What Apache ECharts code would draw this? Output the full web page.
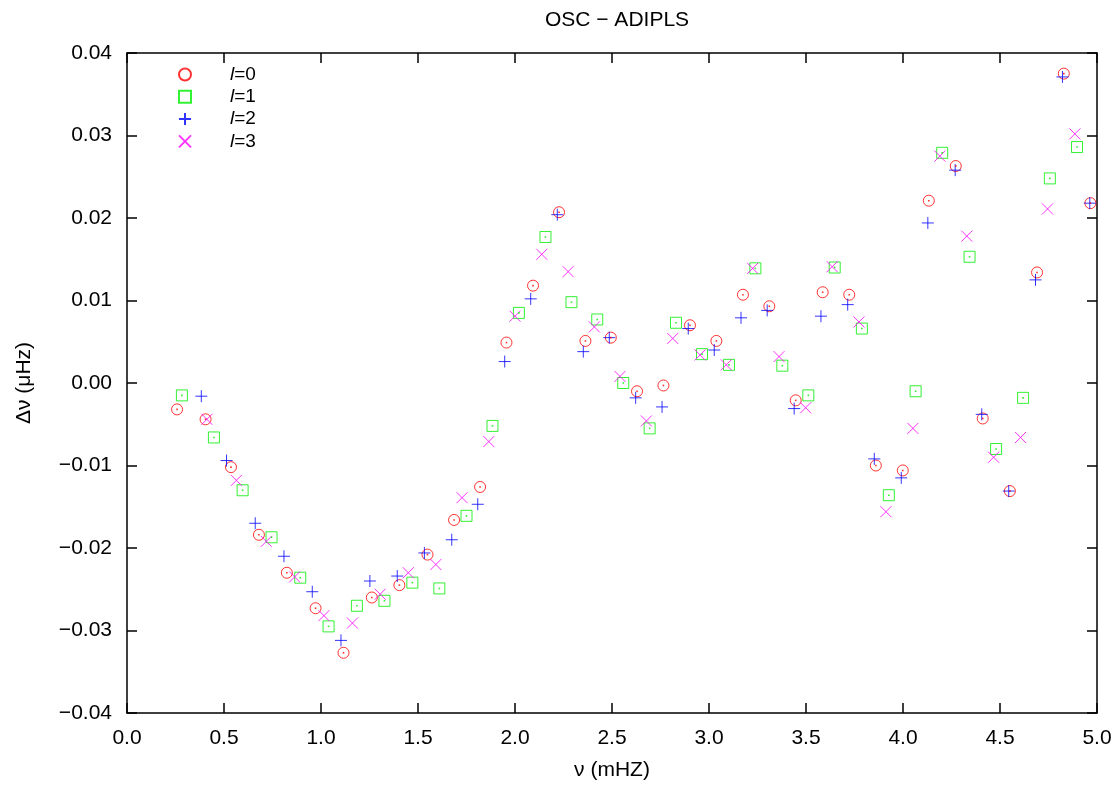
<!DOCTYPE html>
<html>
<head>
<meta charset="utf-8">
<script src="https://cdn.jsdelivr.net/npm/echarts@6/dist/echarts.min.js"></script>
<style>
html,body{margin:0;padding:0;background:#fff;}
#chart{width:1118px;height:786px;}
</style>
</head>
<body>
<div id="chart"></div>
<script>
// ---- data ----
const xTicks = [0.0,0.5,1.0,1.5,2.0,2.5,3.0,3.5,4.0,4.5,5.0];
const yTicks = [-0.04,-0.03,-0.02,-0.01,0.00,0.01,0.02,0.03,0.04];
const seriesNames = ['l=0','l=1','l=2','l=3'];

const nuL0 = [0.258,0.405,0.536,0.680,0.824,0.972,1.116,1.262,1.404,1.549,1.686,1.820,1.956,2.093,2.227,2.363,2.494,2.629,2.765,2.902,3.038,3.175,3.311,3.447,3.586,3.723,3.860,3.999,4.133,4.272,4.411,4.551,4.691,4.829,4.966];
const dnuL0 = [-0.0032,-0.0044,-0.0102,-0.0184,-0.0230,-0.0273,-0.0327,-0.0260,-0.0245,-0.0208,-0.0166,-0.0126,0.0049,0.0118,0.0207,0.0051,0.0055,-0.0010,-0.0003,0.0070,0.0051,0.0107,0.0093,-0.0021,0.0110,0.0107,-0.0100,-0.0106,0.0221,0.0263,-0.0043,-0.0131,0.0134,0.0375,0.0218];

const nuL1 = [0.283,0.448,0.596,0.745,0.893,1.039,1.185,1.327,1.471,1.610,1.750,1.884,2.020,2.157,2.291,2.424,2.558,2.694,2.830,2.964,3.103,3.239,3.378,3.512,3.648,3.788,3.927,4.065,4.202,4.343,4.480,4.619,4.757,4.897];
const dnuL1 = [-0.0015,-0.0066,-0.0130,-0.0187,-0.0236,-0.0295,-0.0270,-0.0264,-0.0242,-0.0249,-0.0161,-0.0052,0.0085,0.0177,0.0098,0.0077,0.0000,-0.0055,0.0073,0.0035,0.0022,0.0139,0.0021,-0.0015,0.0140,0.0066,-0.0136,-0.0010,0.0279,0.0153,-0.0080,-0.0018,0.0248,0.0286];

const nuL2 = [0.383,0.513,0.661,0.809,0.955,1.103,1.252,1.393,1.533,1.674,1.808,1.947,2.081,2.218,2.352,2.486,2.622,2.758,2.893,3.027,3.165,3.300,3.439,3.577,3.715,3.852,3.991,4.128,4.269,4.406,4.545,4.683,4.822,4.963];
const dnuL2 = [-0.0016,-0.0094,-0.0170,-0.0210,-0.0253,-0.0312,-0.0240,-0.0234,-0.0206,-0.0190,-0.0147,0.0026,0.0102,0.0204,0.0038,0.0055,-0.0018,-0.0029,0.0066,0.0040,0.0079,0.0088,-0.0031,0.0081,0.0095,-0.0092,-0.0115,0.0194,0.0258,-0.0038,-0.0131,0.0125,0.0371,0.0218];

const nuL3 = [0.412,0.564,0.718,0.864,1.015,1.162,1.305,1.450,1.592,1.727,1.865,2.000,2.138,2.274,2.409,2.541,2.677,2.813,2.954,3.089,3.225,3.361,3.498,3.635,3.773,3.912,4.051,4.190,4.329,4.467,4.606,4.745,4.886];
const dnuL3 = [-0.0044,-0.0118,-0.0192,-0.0235,-0.0282,-0.0291,-0.0256,-0.0230,-0.0220,-0.0139,-0.0071,0.0081,0.0156,0.0135,0.0068,0.0008,-0.0046,0.0054,0.0034,0.0022,0.0139,0.0032,-0.0030,0.0141,0.0074,-0.0156,-0.0055,0.0275,0.0178,-0.0090,-0.0066,0.0211,0.0302];

// ---- build chart ----
const zip = (a, b) => a.map((v, i) => [v, b[i]]);
const FONT = 'Liberation Sans, Arial, Helvetica, sans-serif';
const colors = ['#ff0000', '#00ee00', '#0000ff', '#ff00ff'];
const symbols = ['circle', 'path://M0,0L10,0L10,10L0,10Z', 'path://M0,5L10,5M5,0L5,10', 'path://M0,0L10,10M0,10L10,0'];
const sizes = [11, 11, 12, 11];
const datasets = [zip(nuL0, dnuL0), zip(nuL1, dnuL1), zip(nuL2, dnuL2), zip(nuL3, dnuL3)];

const series = [];
datasets.forEach((d, i) => {
  series.push({
    name: seriesNames[i],
    type: 'scatter',
    data: d,
    symbol: symbols[i],
    symbolSize: sizes[i],
    itemStyle: { color: 'rgba(0,0,0,0)', borderColor: colors[i], borderWidth: 1 },
    emphasis: { disabled: true },
    z: 3
  });
});
// gnuplot-style centre dots for circles and squares
[0, 1].forEach(i => {
  series.push({
    name: 'dot' + i,
    type: 'scatter',
    data: datasets[i],
    symbol: 'rect',
    symbolSize: 1.6,
    itemStyle: { color: colors[i] },
    silent: true,
    emphasis: { disabled: true },
    z: 4
  });
});

const fmtY = v => {
  if (Math.abs(v) < 1e-9) return '0.00';
  return v.toFixed(2).replace('-', '\u2212');
};

const axisLineStyle = { color: '#000', width: 1.5 };
const tickStyle = { inside: true, length: 10, lineStyle: { color: '#000', width: 1.5 } };

const option = {
  animation: false,
  backgroundColor: '#fff',
  title: {
    text: 'OSC \u2212 ADIPLS',
    left: 612,
    top: 5,
    textAlign: 'center',
    textStyle: { fontFamily: FONT, fontSize: 21, fontWeight: 'normal', color: '#000' }
  },
  legend: {
    data: seriesNames,
    orient: 'vertical',
    left: 173,
    top: 60,
    padding: 5,
    itemWidth: 12,
    itemHeight: 12,
    itemGap: 3.3,
    selectedMode: false,
    formatter: name => '{i|l}' + name.slice(1),
    textStyle: {
      fontFamily: FONT, fontSize: 19, color: '#000', lineHeight: 19,
      rich: { i: { fontFamily: FONT, fontSize: 19, fontStyle: 'italic', color: '#000', padding: [0, 0, 0, 34] } }
    }
  },
  grid: { left: 127, right: 21, top: 53, bottom: 73, containLabel: false },
  xAxis: [{
    type: 'value', position: 'bottom',
    min: xTicks[0], max: xTicks[xTicks.length - 1], interval: 0.5,
    name: '\u03bd (mHZ)', nameLocation: 'middle', nameGap: 47,
    nameTextStyle: { fontFamily: FONT, fontSize: 21, color: '#000' },
    axisLine: { show: true, onZero: false, lineStyle: axisLineStyle },
    axisTick: tickStyle,
    axisLabel: { fontFamily: FONT, fontSize: 21, color: '#000', margin: 15, formatter: v => v.toFixed(1) },
    splitLine: { show: false }
  }, {
    type: 'value', position: 'top',
    min: xTicks[0], max: xTicks[xTicks.length - 1], interval: 0.5,
    axisLine: { show: true, onZero: false, lineStyle: axisLineStyle },
    axisTick: tickStyle,
    axisLabel: { show: false },
    splitLine: { show: false }
  }],
  yAxis: [{
    type: 'value', position: 'left',
    min: yTicks[0], max: yTicks[yTicks.length - 1], interval: 0.01,
    name: '\u0394\u03bd (\u03bcHz)', nameLocation: 'middle', nameGap: 92,
    nameTextStyle: { fontFamily: FONT, fontSize: 21, color: '#000' },
    axisLine: { show: true, onZero: false, lineStyle: axisLineStyle },
    axisTick: tickStyle,
    axisLabel: { fontFamily: FONT, fontSize: 21, color: '#000', margin: 15, formatter: fmtY },
    splitLine: { show: false }
  }, {
    type: 'value', position: 'right',
    min: yTicks[0], max: yTicks[yTicks.length - 1], interval: 0.01,
    axisLine: { show: true, onZero: false, lineStyle: axisLineStyle },
    axisTick: tickStyle,
    axisLabel: { show: false },
    splitLine: { show: false }
  }],
  series: series
};

const chart = echarts.init(document.getElementById('chart'));
chart.setOption(option);
</script>
</body>
</html>
